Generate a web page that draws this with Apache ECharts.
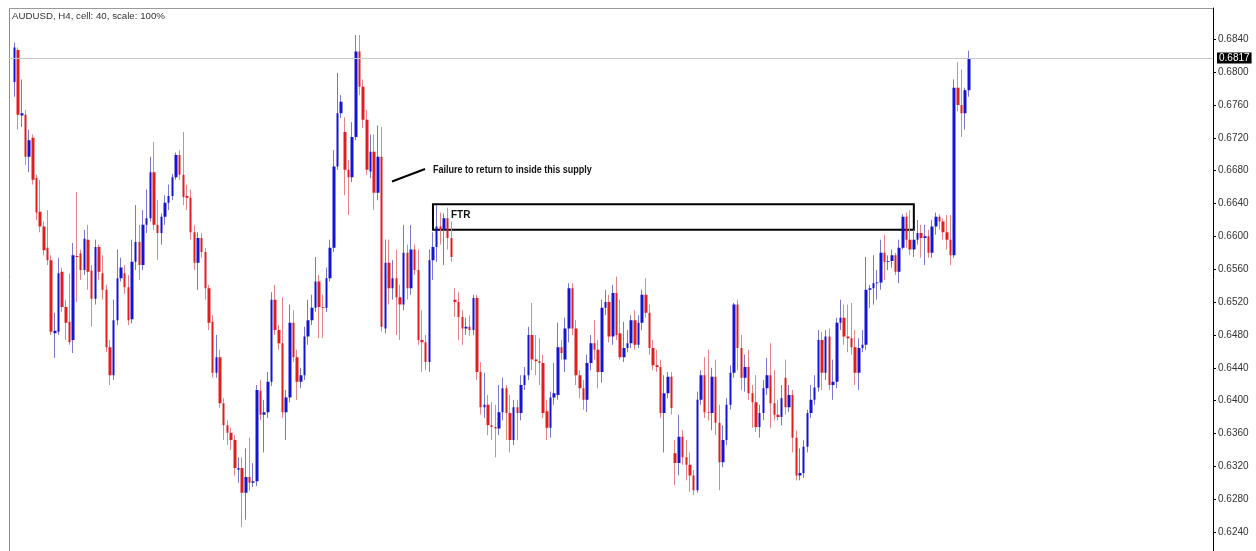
<!DOCTYPE html>
<html>
<head>
<meta charset="utf-8">
<script src="https://cdn.jsdelivr.net/npm/echarts@6/dist/echarts.min.js"></script>
<style>
html,body{margin:0;padding:0;background:#fff;overflow:hidden;}
#c{width:1256px;height:551px;}
</style>
</head>
<body>
<div id="c"></div>
<script>
// ---- data ----
const chartTitle = 'AUDUSD, H4, cell: 40, scale: 100%';
// each candle: [open, close, low, high]
const candles = [
[0.6788,0.6830,0.6770,0.6836],[0.6827,0.6748,0.6730,0.6830],[0.6747,0.6750,0.6733,0.6791],[0.6748,0.6697,0.6687,0.6754],
[0.6697,0.6717,0.6678,0.6730],[0.6720,0.6669,0.6663,0.6724],[0.6671,0.6629,0.6620,0.6675],[0.6630,0.6612,0.6605,0.6669],
[0.6612,0.6583,0.6577,0.6618],[0.6586,0.6571,0.6565,0.6632],[0.6571,0.6484,0.6480,0.6577],[0.6482,0.6485,0.6452,0.6507],
[0.6484,0.6555,0.6480,0.6574],[0.6557,0.6514,0.6508,0.6562],[0.6514,0.6495,0.6474,0.6523],[0.6496,0.6471,0.6468,0.6555],
[0.6474,0.6577,0.6458,0.6592],[0.6576,0.6575,0.6520,0.6654],[0.6579,0.6559,0.6547,0.6584],[0.6559,0.6597,0.6553,0.6608],
[0.6596,0.6557,0.6535,0.6614],[0.6558,0.6524,0.6490,0.6565],[0.6524,0.6587,0.6517,0.6596],[0.6587,0.6557,0.6547,0.6590],
[0.6555,0.6535,0.6523,0.6577],[0.6535,0.6465,0.6459,0.6541],[0.6465,0.6431,0.6419,0.6474],[0.6431,0.6498,0.6425,0.6523],
[0.6498,0.6549,0.6492,0.6584],[0.6549,0.6562,0.6545,0.6574],[0.6555,0.6538,0.6530,0.6565],[0.6538,0.6498,0.6492,0.6553],
[0.6499,0.6569,0.6494,0.6596],[0.6569,0.6593,0.6559,0.6638],[0.6593,0.6565,0.6547,0.6614],[0.6565,0.6614,0.6559,0.6632],
[0.6614,0.6622,0.6604,0.6657],[0.6622,0.6678,0.6618,0.6697],[0.6678,0.6614,0.6608,0.6715],[0.6614,0.6604,0.6571,0.6644],
[0.6604,0.6624,0.6590,0.6628],[0.6624,0.6641,0.6614,0.6650],[0.6641,0.6649,0.6632,0.6663],[0.6649,0.6672,0.6644,0.6676],
[0.6672,0.6699,0.6669,0.6702],[0.6699,0.6675,0.6669,0.6705],[0.6675,0.6648,0.6638,0.6727],[0.6649,0.6647,0.6632,0.6663],
[0.6647,0.6605,0.6596,0.6657],[0.6605,0.6568,0.6559,0.6614],[0.6568,0.6598,0.6535,0.6605],[0.6598,0.6581,0.6574,0.6604],
[0.6581,0.6537,0.6523,0.6586],[0.6537,0.6495,0.6486,0.6541],[0.6496,0.6434,0.6428,0.6504],[0.6434,0.6453,0.6428,0.6480],
[0.6453,0.6397,0.6391,0.6462],[0.6397,0.6370,0.6352,0.6403],[0.6370,0.6361,0.6346,0.6376],[0.6361,0.6352,0.6340,0.6367],
[0.6352,0.6318,0.6309,0.6358],[0.6316,0.6318,0.6300,0.6331],[0.6318,0.6288,0.6246,0.6331],[0.6288,0.6307,0.6255,0.6342],
[0.6307,0.6300,0.6290,0.6355],[0.6300,0.6302,0.6295,0.6324],[0.6302,0.6413,0.6296,0.6419],[0.6412,0.6383,0.6376,0.6425],
[0.6383,0.6386,0.6337,0.6401],[0.6386,0.6423,0.6379,0.6435],[0.6423,0.6523,0.6418,0.6532],[0.6523,0.6486,0.6480,0.6541],
[0.6486,0.6470,0.6462,0.6492],[0.6470,0.6386,0.6379,0.6526],[0.6386,0.6404,0.6352,0.6413],[0.6404,0.6495,0.6398,0.6517],
[0.6495,0.6453,0.6447,0.6510],[0.6453,0.6423,0.6401,0.6462],[0.6423,0.6431,0.6415,0.6440],[0.6431,0.6478,0.6425,0.6490],
[0.6478,0.6498,0.6468,0.6523],[0.6498,0.6513,0.6492,0.6529],[0.6513,0.6545,0.6508,0.6575],[0.6545,0.6514,0.6476,0.6553],
[0.6514,0.6513,0.6476,0.6529],[0.6513,0.6549,0.6508,0.6562],[0.6549,0.6586,0.6545,0.6596],[0.6586,0.6685,0.6581,0.6705],
[0.6685,0.6750,0.6681,0.6799],[0.6750,0.6764,0.6744,0.6772],[0.6727,0.6681,0.6650,0.6745],[0.6681,0.6672,0.6626,0.6693],
[0.6672,0.6721,0.6666,0.6739],[0.6721,0.6825,0.6717,0.6845],[0.6825,0.6782,0.6772,0.6845],[0.6782,0.6742,0.6732,0.6791],
[0.6742,0.6681,0.6675,0.6754],[0.6679,0.6703,0.6671,0.6724],[0.6703,0.6653,0.6632,0.6724],[0.6653,0.6697,0.6644,0.6735],
[0.6697,0.6490,0.6484,0.6733],[0.6488,0.6568,0.6482,0.6596],[0.6568,0.6537,0.6517,0.6596],[0.6537,0.6549,0.6523,0.6571],
[0.6549,0.6526,0.6480,0.6584],[0.6526,0.6517,0.6474,0.6541],[0.6517,0.6580,0.6510,0.6614],[0.6580,0.6537,0.6523,0.6590],
[0.6537,0.6584,0.6529,0.6614],[0.6584,0.6559,0.6553,0.6590],[0.6559,0.6474,0.6468,0.6584],[0.6474,0.6471,0.6435,0.6510],
[0.6471,0.6447,0.6437,0.6480],[0.6447,0.6571,0.6435,0.6584],[0.6571,0.6587,0.6547,0.6605],[0.6587,0.6612,0.6569,0.6638],
[0.6612,0.6608,0.6590,0.6629],[0.6608,0.6622,0.6565,0.6628],[0.6622,0.6598,0.6584,0.6635],[0.6598,0.6575,0.6569,0.6618],
[0.6523,0.6520,0.6502,0.6537],[0.6520,0.6502,0.6474,0.6532],[0.6502,0.6488,0.6468,0.6510],[0.6488,0.6490,0.6480,0.6501],
[0.6490,0.6486,0.6479,0.6504],[0.6486,0.6525,0.6480,0.6529],[0.6525,0.6435,0.6425,0.6529],[0.6435,0.6392,0.6383,0.6447],
[0.6392,0.6395,0.6379,0.6434],[0.6395,0.6370,0.6358,0.6407],[0.6370,0.6368,0.6352,0.6398],[0.6368,0.6366,0.6331,0.6395],
[0.6366,0.6386,0.6358,0.6419],[0.6386,0.6415,0.6376,0.6428],[0.6415,0.6385,0.6352,0.6419],[0.6385,0.6352,0.6337,0.6407],
[0.6352,0.6392,0.6346,0.6401],[0.6392,0.6385,0.6352,0.6401],[0.6385,0.6419,0.6376,0.6431],[0.6419,0.6431,0.6413,0.6441],
[0.6431,0.6480,0.6425,0.6490],[0.6480,0.6450,0.6437,0.6519],[0.6450,0.6448,0.6431,0.6480],[0.6448,0.6446,0.6419,0.6476],
[0.6446,0.6385,0.6379,0.6456],[0.6387,0.6367,0.6352,0.6401],[0.6367,0.6404,0.6355,0.6411],[0.6404,0.6409,0.6395,0.6446],
[0.6407,0.6465,0.6401,0.6495],[0.6465,0.6458,0.6450,0.6474],[0.6450,0.6488,0.6435,0.6501],[0.6488,0.6537,0.6471,0.6543],
[0.6537,0.6488,0.6480,0.6543],[0.6488,0.6431,0.6419,0.6498],[0.6431,0.6415,0.6403,0.6437],[0.6415,0.6401,0.6389,0.6425],
[0.6401,0.6446,0.6386,0.6456],[0.6446,0.6470,0.6437,0.6480],[0.6470,0.6462,0.6450,0.6498],[0.6462,0.6435,0.6415,0.6474],
[0.6435,0.6513,0.6422,0.6523],[0.6513,0.6520,0.6504,0.6535],[0.6520,0.6478,0.6471,0.6529],[0.6478,0.6531,0.6468,0.6541],
[0.6531,0.6480,0.6474,0.6551],[0.6482,0.6453,0.6450,0.6523],[0.6453,0.6464,0.6447,0.6496],[0.6464,0.6470,0.6459,0.6486],
[0.6470,0.6498,0.6464,0.6504],[0.6498,0.6468,0.6462,0.6510],[0.6468,0.6495,0.6464,0.6504],[0.6495,0.6529,0.6486,0.6535],
[0.6529,0.6507,0.6501,0.6549],[0.6507,0.6464,0.6456,0.6517],[0.6464,0.6443,0.6437,0.6474],[0.6443,0.6441,0.6435,0.6462],
[0.6441,0.6385,0.6379,0.6450],[0.6385,0.6409,0.6337,0.6431],[0.6409,0.6429,0.6403,0.6435],[0.6429,0.6391,0.6383,0.6435],
[0.6336,0.6324,0.6297,0.6352],[0.6324,0.6356,0.6309,0.6383],[0.6356,0.6331,0.6322,0.6364],[0.6331,0.6322,0.6303,0.6352],
[0.6322,0.6309,0.6289,0.6337],[0.6309,0.6291,0.6285,0.6316],[0.6291,0.6401,0.6288,0.6411],[0.6401,0.6431,0.6395,0.6437],
[0.6431,0.6386,0.6379,0.6453],[0.6386,0.6385,0.6376,0.6462],[0.6385,0.6429,0.6364,0.6440],[0.6429,0.6373,0.6358,0.6450],
[0.6373,0.6325,0.6291,0.6395],[0.6325,0.6352,0.6319,0.6370],[0.6352,0.6395,0.6346,0.6403],[0.6395,0.6434,0.6389,0.6443],
[0.6434,0.6517,0.6428,0.6519],[0.6517,0.6464,0.6437,0.6523],[0.6464,0.6428,0.6413,0.6480],[0.6428,0.6441,0.6411,0.6456],
[0.6441,0.6409,0.6401,0.6462],[0.6409,0.6398,0.6367,0.6419],[0.6398,0.6368,0.6362,0.6431],[0.6368,0.6385,0.6355,0.6395],
[0.6385,0.6415,0.6376,0.6425],[0.6415,0.6431,0.6407,0.6452],[0.6431,0.6397,0.6367,0.6470],[0.6397,0.6383,0.6376,0.6437],
[0.6383,0.6380,0.6376,0.6401],[0.6380,0.6403,0.6370,0.6419],[0.6428,0.6392,0.6383,0.6450],[0.6392,0.6407,0.6386,0.6419],
[0.6407,0.6355,0.6337,0.6413],[0.6355,0.6309,0.6303,0.6364],[0.6309,0.6312,0.6303,0.6342],[0.6312,0.6344,0.6306,0.6352],
[0.6344,0.6385,0.6337,0.6389],[0.6385,0.6401,0.6379,0.6419],[0.6401,0.6416,0.6395,0.6431],[0.6416,0.6474,0.6411,0.6486],
[0.6474,0.6434,0.6413,0.6484],[0.6434,0.6478,0.6425,0.6486],[0.6478,0.6419,0.6413,0.6488],[0.6419,0.6423,0.6401,0.6450],
[0.6423,0.6495,0.6415,0.6501],[0.6495,0.6501,0.6486,0.6523],[0.6501,0.6478,0.6468,0.6517],[0.6478,0.6476,0.6459,0.6517],
[0.6476,0.6465,0.6456,0.6519],[0.6465,0.6434,0.6419,0.6486],[0.6434,0.6464,0.6413,0.6476],[0.6464,0.6468,0.6459,0.6486],
[0.6468,0.6535,0.6462,0.6575],[0.6535,0.6537,0.6513,0.6541],[0.6537,0.6543,0.6517,0.6577],[0.6543,0.6544,0.6523,0.6559],
[0.6544,0.6580,0.6535,0.6596],[0.6580,0.6569,0.6547,0.6602],[0.6569,0.6570,0.6559,0.6577],[0.6570,0.6577,0.6562,0.6584],
[0.6577,0.6557,0.6553,0.6580],[0.6557,0.6586,0.6543,0.6596],[0.6586,0.6624,0.6584,0.6627],[0.6624,0.6596,0.6586,0.6629],
[0.6596,0.6584,0.6577,0.6632],[0.6584,0.6596,0.6575,0.6608],[0.6596,0.6604,0.6590,0.6620],[0.6604,0.6598,0.6574,0.6614],
[0.6598,0.6600,0.6565,0.6614],[0.6600,0.6580,0.6574,0.6608],[0.6580,0.6612,0.6574,0.6620],[0.6612,0.6624,0.6602,0.6629],
[0.6624,0.6618,0.6608,0.6627],[0.6618,0.6605,0.6596,0.6622],[0.6605,0.6596,0.6584,0.6626],[0.6596,0.6577,0.6565,0.6626],
[0.6577,0.6781,0.6574,0.6791],[0.6781,0.6760,0.6752,0.6812],[0.6760,0.6750,0.6721,0.6803],[0.6750,0.6778,0.6730,0.6781],
[0.6778,0.6817,0.6770,0.6826]
];
const barLabels = candles.map((_, i) => 'H4 bar ' + (i + 1));
const priceTicks = [0.6240, 0.6280, 0.6320, 0.6360, 0.6400, 0.6440, 0.6480, 0.6520,
                    0.6560, 0.6600, 0.6640, 0.6680, 0.6720, 0.6760, 0.6800, 0.6840];
const priceMin = 0.6217;
const priceMax = 0.6878;
const lastPrice = 0.6817;
const zoneFromBar = 114;
const zoneToBar = 245;
const zoneTop = 0.6639;
const zoneBottom = 0.6608;
const zoneLabel = 'FTR';
const noteText = 'Failure to return to inside this supply';

// ---- layout / style ----
const leadPad = 1, tailPad = 66;
const upBody = '#1414d4', downBody = '#e01e1e';
const upWick = '#7878cc', downWick = '#e68585';
const plainFont = '"Liberation Sans", Arial, sans-serif';

const cats = [];
for (let i = 0; i < leadPad; i++) cats.push('lead' + i);
barLabels.forEach(c => cats.push(c));
for (let i = 0; i < tailPad; i++) cats.push('tail' + i);
const seriesData = [];
for (let i = 0; i < leadPad; i++) seriesData.push(['-', '-', '-', '-']);
candles.forEach(c => seriesData.push(c));

const chart = echarts.init(document.getElementById('c'), null, {renderer: 'canvas'});
chart.setOption({
  animation: false,
  backgroundColor: '#ffffff',
  grid: {left: 9, right: 43, top: 8, bottom: 0, show: false},
  xAxis: {
    type: 'category', data: cats, boundaryGap: true,
    axisLine: {show: false}, axisTick: {show: false}, axisLabel: {show: false}, splitLine: {show: false}
  },
  yAxis: {
    type: 'value', position: 'right', min: priceMin, max: priceMax,
    axisLine: {show: true, lineStyle: {color: '#000', width: 1}},
    axisTick: {show: true, length: 3, lineStyle: {color: '#000'}, customValues: priceTicks},
    axisLabel: {show: true, margin: 5, color: '#333', fontSize: 10, fontFamily: plainFont,
      customValues: priceTicks, formatter: v => v.toFixed(4)},
    splitLine: {show: false}
  },
  series: [
    {
      type: 'candlestick', name: 'wicks', data: seriesData, barWidth: 1, silent: true,
      itemStyle: {color: upWick, color0: downWick, borderColor: upWick, borderColor0: downWick, borderWidth: 1},
      emphasis: {disabled: true}
    },
    {
      type: 'candlestick', name: 'AUDUSD', data: seriesData, barWidth: 3, silent: true,
      itemStyle: {color: upBody, color0: downBody, borderColor: upBody, borderColor0: downBody, borderWidth: 0},
      emphasis: {disabled: true},
      markLine: {
        silent: true, symbol: ['none', 'none'], animation: false, precision: 4,
        lineStyle: {color: '#c8c8c8', width: 1, type: 'solid'},
        label: {show: true, position: 'end', distance: 4, formatter: lastPrice.toFixed(4),
          color: '#fff', backgroundColor: '#000', padding: [1, 2, 0, 2], fontSize: 10, fontFamily: plainFont},
        emphasis: {disabled: true},
        data: [{yAxis: lastPrice}]
      },
      markArea: {
        silent: true,
        itemStyle: {color: 'rgba(0,0,0,0)', borderColor: '#000', borderWidth: 2},
        label: {show: true, position: 'insideLeft', distance: 19, offset: [0, -2], formatter: zoneLabel,
          color: '#111', fontSize: 10, fontWeight: 'bold', fontFamily: plainFont},
        emphasis: {disabled: true},
        data: [[{xAxis: zoneFromBar + leadPad, yAxis: zoneTop}, {xAxis: zoneToBar + leadPad, yAxis: zoneBottom}]]
      }
    }
  ],
  graphic: [
    {type: 'line', silent: true, shape: {x1: 9.5, y1: 8, x2: 9.5, y2: 551}, style: {stroke: '#8f8f8f', lineWidth: 1}},
    {type: 'line', silent: true, shape: {x1: 9, y1: 8.5, x2: 1213, y2: 8.5}, style: {stroke: '#9a9a9a', lineWidth: 1}},
    {type: 'text', left: 12, top: 11, silent: true,
      style: {text: chartTitle, fill: '#333', font: '9.7px ' + plainFont}},
    {type: 'line', silent: true, shape: {x1: 392, y1: 181.5, x2: 425, y2: 169},
      style: {stroke: '#000', lineWidth: 2}},
    {type: 'text', x: 433, y: 169.5, scaleX: 0.82, silent: true,
      style: {text: noteText, fill: '#111', font: 'bold 11px ' + plainFont, verticalAlign: 'middle'}}
  ]
});
</script>
</body>
</html>
